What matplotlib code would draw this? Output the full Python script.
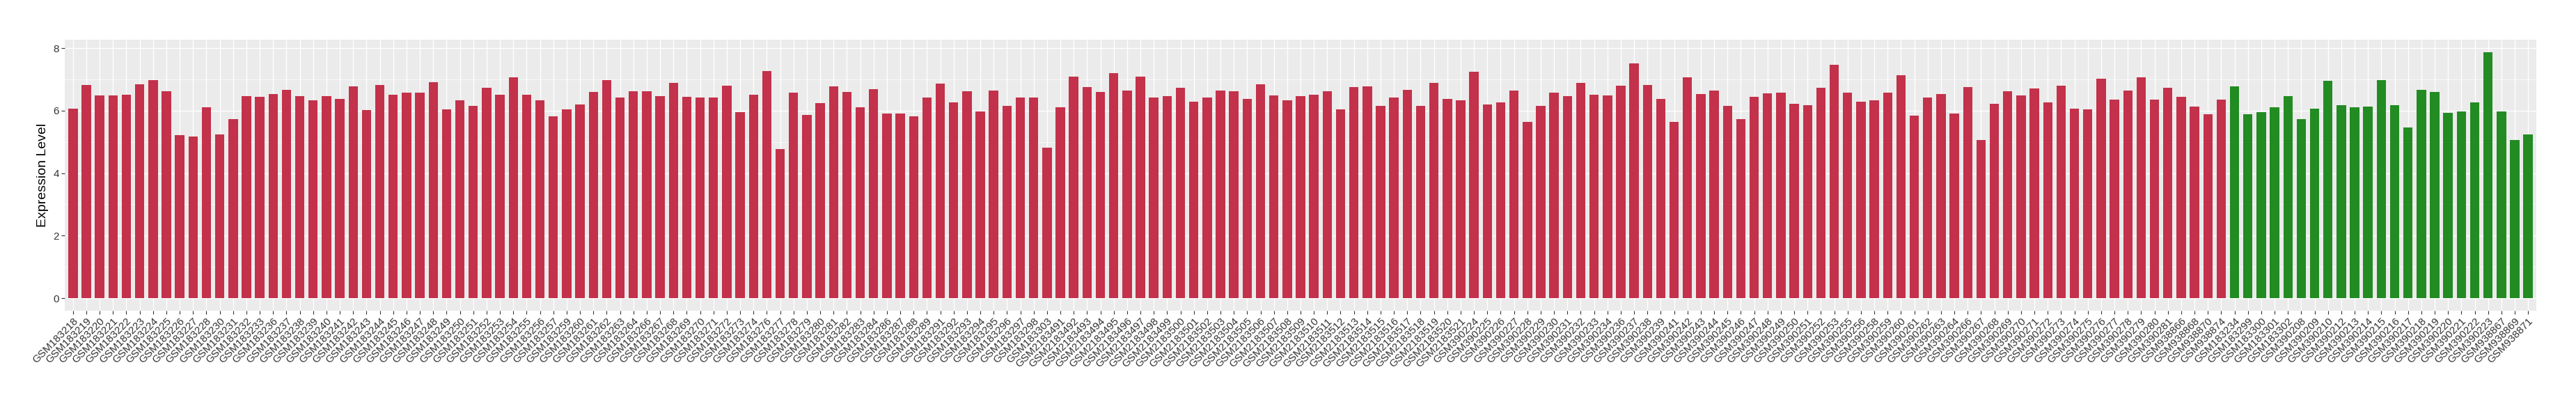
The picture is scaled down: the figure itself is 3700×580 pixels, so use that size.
import matplotlib
matplotlib.use('Agg')
import matplotlib.pyplot as plt
import numpy as np
from matplotlib.ticker import MultipleLocator

# 字体（Arial 风格）
plt.rcParams['font.family'] = ['Liberation Sans', 'DejaVu Sans']

# 数据：第一组样本（红色）
group1_samples = [
    'GSM183218', 'GSM183219', 'GSM183220', 'GSM183221', 'GSM183222', 'GSM183223', 'GSM183224', 'GSM183225',
    'GSM183226', 'GSM183227', 'GSM183228', 'GSM183230', 'GSM183231', 'GSM183232', 'GSM183233', 'GSM183236',
    'GSM183237', 'GSM183238', 'GSM183239', 'GSM183240', 'GSM183241', 'GSM183242', 'GSM183243', 'GSM183244',
    'GSM183245', 'GSM183246', 'GSM183247', 'GSM183248', 'GSM183249', 'GSM183250', 'GSM183251', 'GSM183252',
    'GSM183253', 'GSM183254', 'GSM183255', 'GSM183256', 'GSM183257', 'GSM183259', 'GSM183260', 'GSM183261',
    'GSM183262', 'GSM183263', 'GSM183264', 'GSM183266', 'GSM183267', 'GSM183268', 'GSM183269', 'GSM183270',
    'GSM183271', 'GSM183272', 'GSM183273', 'GSM183274', 'GSM183276', 'GSM183277', 'GSM183278', 'GSM183279',
    'GSM183280', 'GSM183281', 'GSM183282', 'GSM183283', 'GSM183284', 'GSM183286', 'GSM183287', 'GSM183288',
    'GSM183289', 'GSM183291', 'GSM183292', 'GSM183293', 'GSM183294', 'GSM183295', 'GSM183296', 'GSM183297',
    'GSM183298', 'GSM183303',
    'GSM2183491', 'GSM2183492', 'GSM2183493', 'GSM2183494', 'GSM2183495', 'GSM2183496', 'GSM2183497',
    'GSM2183498', 'GSM2183499', 'GSM2183500', 'GSM2183501', 'GSM2183502', 'GSM2183503', 'GSM2183504',
    'GSM2183505', 'GSM2183506', 'GSM2183507', 'GSM2183508', 'GSM2183509', 'GSM2183510', 'GSM2183511',
    'GSM2183512', 'GSM2183513', 'GSM2183514', 'GSM2183515', 'GSM2183516', 'GSM2183517', 'GSM2183518',
    'GSM2183519', 'GSM2183520', 'GSM2183521',
    'GSM390224', 'GSM390225', 'GSM390226', 'GSM390227', 'GSM390228', 'GSM390229', 'GSM390230', 'GSM390231',
    'GSM390232', 'GSM390233', 'GSM390234', 'GSM390236', 'GSM390237', 'GSM390238', 'GSM390239', 'GSM390241',
    'GSM390242', 'GSM390243', 'GSM390244', 'GSM390245', 'GSM390246', 'GSM390247', 'GSM390248', 'GSM390249',
    'GSM390250', 'GSM390251', 'GSM390252', 'GSM390253', 'GSM390255', 'GSM390256', 'GSM390258', 'GSM390259',
    'GSM390260', 'GSM390261', 'GSM390262', 'GSM390263', 'GSM390264', 'GSM390266', 'GSM390267', 'GSM390268',
    'GSM390269', 'GSM390270', 'GSM390271', 'GSM390272', 'GSM390273', 'GSM390274', 'GSM390275', 'GSM390276',
    'GSM390277', 'GSM390278', 'GSM390279', 'GSM390280', 'GSM390281',
    'GSM938866', 'GSM938868', 'GSM938870', 'GSM938874',
]
group1_values = [
    6.07, 6.83, 6.49, 6.49, 6.51, 6.85, 6.98, 6.63, 5.21, 5.18, 6.11, 5.23, 5.73, 6.47, 6.45, 6.54,
    6.67, 6.47, 6.32, 6.47, 6.38, 6.78, 6.03, 6.83, 6.51, 6.58, 6.58, 6.92, 6.05, 6.33, 6.16, 6.73,
    6.51, 7.07, 6.51, 6.33, 5.81, 6.05, 6.20, 6.60, 6.98, 6.42, 6.63, 6.63, 6.47, 6.89, 6.45, 6.41,
    6.42, 6.80, 5.96, 6.51, 7.27, 4.78, 6.58, 5.87, 6.25, 6.78, 6.60, 6.11, 6.69, 5.91, 5.91, 5.82,
    6.41, 6.87, 6.27, 6.63, 5.98, 6.64, 6.16, 6.41, 6.42, 4.81,
    6.11, 7.09, 6.76, 6.60, 7.20, 6.64, 7.09, 6.42, 6.47, 6.73, 6.29, 6.42, 6.64, 6.63, 6.38, 6.85,
    6.49, 6.32, 6.47, 6.51, 6.63, 6.05, 6.76, 6.78, 6.16, 6.41, 6.67, 6.16, 6.89, 6.38, 6.33,
    7.24, 6.20, 6.27, 6.64, 5.65, 6.16, 6.58, 6.47, 6.89, 6.51, 6.49, 6.80, 7.51, 6.83, 6.38, 5.63,
    7.07, 6.54, 6.64, 6.16, 5.73, 6.45, 6.55, 6.58, 6.23, 6.18, 6.73, 7.47, 6.58, 6.29, 6.32, 6.58,
    7.14, 5.85, 6.42, 6.54, 5.91, 6.76, 5.05, 6.23, 6.63, 6.49, 6.71, 6.27, 6.80, 6.07, 6.05, 7.02,
    6.36, 6.64, 7.07, 6.36, 6.73,
    6.45, 6.14, 5.89, 6.36,
]

# 数据：第二组样本（绿色）
group2_samples = [
    'GSM183234', 'GSM183299', 'GSM183300', 'GSM183301', 'GSM183302',
    'GSM390208', 'GSM390209', 'GSM390210', 'GSM390212', 'GSM390213', 'GSM390214', 'GSM390215',
    'GSM390216', 'GSM390217', 'GSM390218', 'GSM390219', 'GSM390220', 'GSM390221', 'GSM390222',
    'GSM390223', 'GSM938867', 'GSM938869', 'GSM938871',
]
group2_values = [
    6.78, 5.89, 5.96, 6.10, 6.47,
    5.73, 6.07, 6.96, 6.18, 6.10, 6.14, 6.98,
    6.18, 5.47, 6.67, 6.60, 5.94, 5.98, 6.27,
    7.87, 5.98, 5.05, 5.25,
]

samples = group1_samples + group2_samples
values = group1_values + group2_values
colors = ['#C3314A'] * len(group1_samples) + ['#228B22'] * len(group2_samples)

# 创建画布
fig = plt.figure(figsize=(37, 5.8), dpi=100)
ax = fig.add_axes([0.02522, 0.23155, 0.95929, 0.66965])

x = np.arange(len(samples))
ax.bar(x, values, width=0.7, color=colors, zorder=3)

# ggplot 风格背景和网格
ax.set_facecolor('#EBEBEB')
for s in ax.spines.values():
    s.set_visible(False)
ax.set_xlim(-0.6, len(samples) - 0.4)
ymax = max(values)
ax.set_ylim(-0.05 * ymax, 1.05 * ymax)
ax.set_yticks([0, 2, 4, 6, 8])
ax.yaxis.set_minor_locator(MultipleLocator(1))
ax.grid(which='major', color='white', linewidth=1.0)
ax.grid(which='minor', axis='y', color='white', linewidth=0.5)
ax.set_axisbelow(True)

# 坐标轴标签
ax.set_xticks(x)
ax.set_xticklabels(samples, rotation=45, ha='right', va='top',
                   rotation_mode='anchor', fontsize=11, color='#333333')
ax.tick_params(axis='both', which='major', length=3.5, width=0.8, color='#333333', pad=2.5)
ax.tick_params(axis='y', which='minor', length=0)
ax.tick_params(axis='y', labelsize=11, labelcolor='#333333')
ax.set_ylabel('Expression Level', fontsize=14, labelpad=5)

fig.savefig('out.png', dpi=100)
